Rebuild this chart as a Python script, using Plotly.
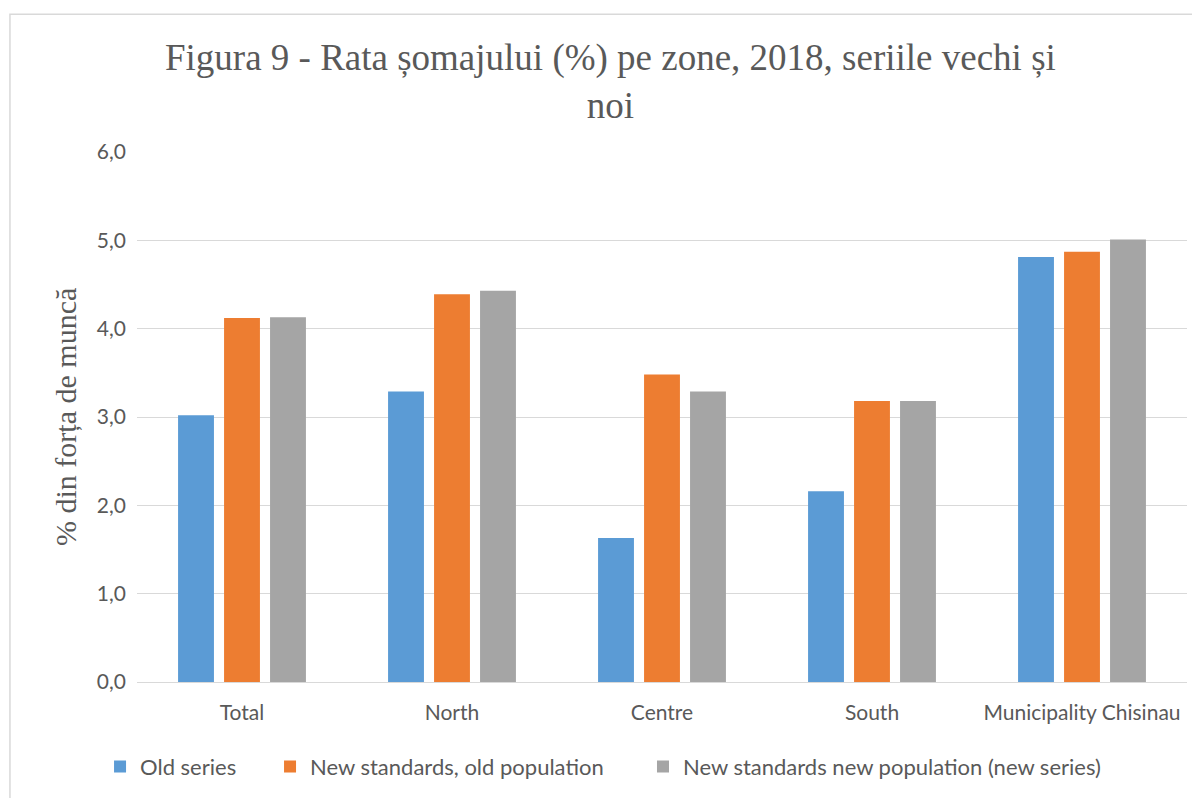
import plotly.graph_objects as go

zones = ["Total", "North", "Centre", "South", "Municipality Chisinau"]
old_series = [3.02, 3.29, 1.63, 2.16, 4.81]
new_std_old_pop = [4.12, 4.39, 3.48, 3.18, 4.87]
new_std_new_pop = [4.13, 4.43, 3.29, 3.18, 5.01]

names = ["Old series", "New standards, old population",
         "New standards new population (new series)"]
colors = ["#5B9BD5", "#ED7D31", "#A5A5A5"]
legend_ids = ["legend", "legend2", "legend3"]

fig = go.Figure()
for name, vals, col, lg in zip(names, [old_series, new_std_old_pop, new_std_new_pop],
                               colors, legend_ids):
    fig.add_trace(go.Bar(x=zones, y=vals, name=name, marker_color=col,
                         marker_line_width=0, legend=lg, showlegend=True))

tick_font = dict(family="Lato, Open Sans, sans-serif", size=21, color="#595959")
leg_font = dict(family="Lato, Open Sans, sans-serif", size=22, color="#595959")
serif = "Liberation Serif, Times New Roman, serif"

# page body adds an 8px offset, so margins are shifted by 8
fig.update_layout(
    width=1200, height=798,
    showlegend=True,
    plot_bgcolor="white", paper_bgcolor="white",
    margin=dict(l=129, r=21, t=144, b=124, autoexpand=False),
    separators=",.",
    barmode="group", bargap=0.343, bargroupgap=0.22,
    title=dict(text="Figura 9 - Rata șomajului (%) pe zone, 2018, seriile vechi și<br>noi",
               x=0.502, xanchor="center", y=1 - 62 / 798, yanchor="top",
               font=dict(family=serif, size=37, color="#595959")),
    legend=dict(orientation="h", x=-0.0352, xanchor="left", y=-0.12, yanchor="top",
                font=leg_font),
    legend2=dict(orientation="h", x=0.1267, xanchor="left", y=-0.12, yanchor="top",
                 font=leg_font),
    legend3=dict(orientation="h", x=0.4819, xanchor="left", y=-0.12, yanchor="top",
                 font=leg_font),
    xaxis=dict(tickfont=tick_font, showline=True, linecolor="#D9D9D9", linewidth=1,
               ticks="", ticklabelstandoff=12),
    yaxis=dict(range=[0, 6], dtick=1, tickformat=".1f", tickfont=tick_font,
               gridcolor="#D9D9D9", gridwidth=1, zeroline=False, ticks="",
               ticklabelstandoff=10),
)

fig.add_annotation(text="% din forța de muncă", xref="paper", yref="paper",
                   x=-0.0686, y=0.5, xanchor="center", yanchor="middle",
                   textangle=-90, showarrow=False,
                   font=dict(family=serif, size=30, color="#595959"))

fig.add_shape(type="rect", xref="paper", yref="paper",
              x0=-0.121, x1=1.03, y0=-0.25, y1=1.26,
              line=dict(color="#D9D9D9", width=1.5))

fig.write_html("out.html")
